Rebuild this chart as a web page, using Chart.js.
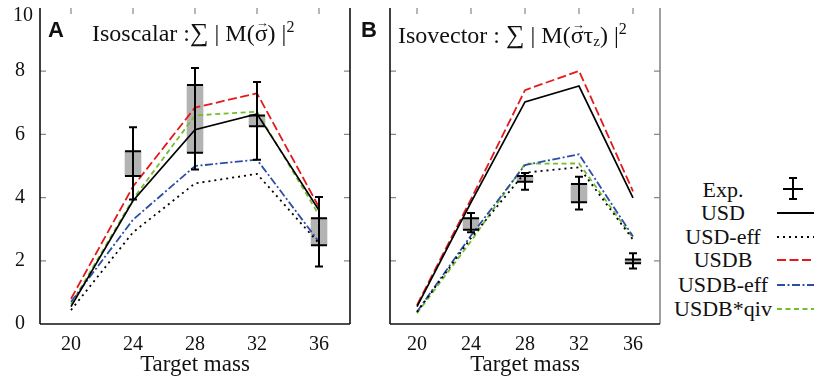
<!DOCTYPE html>
<html>
<head>
<meta charset="utf-8">
<script src="https://cdn.jsdelivr.net/npm/chart.js@4.4.0/dist/chart.umd.min.js"></script>
<style>
body { margin: 0; background: #fff; }
#wrap { position: relative; width: 814px; height: 381px; overflow: hidden; font-family: "Liberation Serif", serif; color: #111; }
canvas { position: absolute; top: 0; }
.ttl { position: absolute; font-size: 24px; line-height: 24px; white-space: nowrap; }
.ttl sup { font-size: 16px; vertical-align: 9px; line-height: 0; }
.ttl sub { font-size: 15px; vertical-align: -3px; line-height: 0; }
.sum { font-size: 26px; }
.vec { position: relative; display: inline-block; }
.vec i { position: absolute; left: 1px; top: -10px; font-style: normal; font-size: 13px; }
.pan { position: absolute; font-family: "Liberation Sans", sans-serif; font-weight: bold; font-size: 22px; line-height: 22px; }
.leg { position: absolute; left: 663px; width: 120px; text-align: center; font-family: "Liberation Serif", serif; font-size: 22px; line-height: 24px; white-space: nowrap; }
</style>
</head>
<body>
<div id="wrap">
  <canvas id="chartA" width="352" height="381" style="left:0"></canvas>
  <canvas id="chartB" width="320" height="381" style="left:342px"></canvas>

  <div class="pan" style="left:48px;top:19px">A</div>
  <div class="ttl" style="left:92px;top:21px">Isoscalar :<span class="sum">∑</span> | M(<span class="vec">σ<i>→</i></span>) |<sup>2</sup></div>
  <div class="pan" style="left:361px;top:19px">B</div>
  <div class="ttl" style="left:398px;top:23px">Isovector : <span class="sum">∑</span> | M(<span class="vec">σ<i>→</i></span>τ<sub>z</sub>) |<sup>2</sup></div>

  <div id="legend"></div>
  <svg id="legSvg" width="50" height="160" style="position:absolute;left:768px;top:168px"></svg>
</div>

<script>
'use strict';

// target masses and tick values
const masses = [20, 24, 28, 32, 36];
const massTicks = [20, 24, 28, 32, 36];
const yTicks = [0, 2, 4, 6, 8, 10];

// panel A: isoscalar
const isoUSD     = [0.55, 3.9, 6.15, 6.65, 3.6];
const isoUSDeff  = [0.44, 2.9, 4.45, 4.75, 2.55];
const isoUSDB    = [0.8, 4.35, 6.85, 7.3, 3.7];
const isoUSDBeff = [0.7, 3.3, 5.0, 5.2, 2.6];
const isoQiv     = [0.62, 3.95, 6.6, 6.72, 3.45];
const isoExpMass = [24, 28, 32, 36];
const isoBoxLo   = [4.68, 5.42, 6.26, 2.49];
const isoBoxHi   = [5.47, 7.56, 6.6, 3.35];
const isoErrLo   = [3.94, 4.89, 5.2, 1.82];
const isoErrHi   = [6.23, 8.1, 7.66, 4.02];

// panel B: isovector
const ivUSD     = [0.55, 3.85, 7.03, 7.53, 3.99];
const ivUSDeff  = [0.38, 2.72, 4.79, 4.96, 2.67];
const ivUSDB    = [0.6, 3.95, 7.4, 8.01, 4.2];
const ivUSDBeff = [0.39, 2.8, 5.03, 5.37, 2.77];
const ivQiv     = [0.34, 2.62, 5.07, 5.08, 2.72];
const ivExpMass = [24, 28, 32, 36];
const ivBoxLo   = [2.98, 4.5, 3.85, 1.92];
const ivBoxHi   = [3.35, 4.68, 4.43, 2.04];
const ivErrLo   = [2.9, 4.25, 3.62, 1.76];
const ivErrHi   = [3.51, 4.78, 4.66, 2.24];

const seriesNames = ['USD', 'USD-eff', 'USDB', 'USDB-eff', 'USDB*qiv'];
const seriesColors = ['#000000', '#000000', '#e3191c', '#2b4ea6', '#72bf2c'];
const seriesDash = [[], [2, 4], [9, 3.5], [8, 2.5, 2, 2.5], [5, 3.5]];

const serif = '"Liberation Serif", serif';
const topTick = yTicks[yTicks.length - 1];

// frame, inward ticks and experimental error bars
const framePlugin = {
  id: 'frame',
  afterDatasetsDraw(chart, args, opts) {
    const ctx = chart.ctx;
    const a = chart.chartArea;
    const x = chart.scales.x;
    const y = chart.scales.y;
    ctx.save();

    ctx.strokeStyle = '#888';
    ctx.lineWidth = 1.2;
    ctx.beginPath();
    massTicks.forEach(v => {
      const px = x.getPixelForValue(v);
      ctx.moveTo(px, a.top);
      ctx.lineTo(px, a.top + 6);
    });
    yTicks.slice(1, -1).forEach(v => {
      const py = y.getPixelForValue(v);
      ctx.moveTo(a.left, py);
      ctx.lineTo(a.left + 6, py);
      ctx.moveTo(a.right, py);
      ctx.lineTo(a.right - 6, py);
    });
    ctx.stroke();

    ctx.lineWidth = 1.6;
    ctx.strokeStyle = opts.leftColor;
    ctx.beginPath();
    ctx.moveTo(a.left, a.top);
    ctx.lineTo(a.left, a.bottom);
    ctx.stroke();
    ctx.strokeStyle = opts.rightColor;
    ctx.beginPath();
    ctx.moveTo(a.right, a.top);
    ctx.lineTo(a.right, a.bottom);
    ctx.stroke();
    ctx.strokeStyle = '#111';
    ctx.beginPath();
    ctx.moveTo(a.left, a.bottom);
    ctx.lineTo(a.right, a.bottom);
    ctx.stroke();

    // error bars
    const e = opts.exp;
    ctx.strokeStyle = '#000';
    ctx.lineWidth = 2;
    ctx.beginPath();
    e.mass.forEach((m, i) => {
      const px = x.getPixelForValue(m);
      const yHi = y.getPixelForValue(e.errHi[i]);
      const yLo = y.getPixelForValue(e.errLo[i]);
      const b1 = y.getPixelForValue(e.boxLo[i]);
      const b2 = y.getPixelForValue(e.boxHi[i]);
      ctx.moveTo(px, yHi); ctx.lineTo(px, yLo);
      ctx.moveTo(px - 4, yHi); ctx.lineTo(px + 4, yHi);
      ctx.moveTo(px - 4, yLo); ctx.lineTo(px + 4, yLo);
      ctx.moveTo(px - 8, b1); ctx.lineTo(px + 8, b1);
      ctx.moveTo(px - 8, b2); ctx.lineTo(px + 8, b2);
    });
    ctx.stroke();

    // top y label sits a bit lower so it is not cut off
    if (opts.showY) {
      ctx.fillStyle = '#111';
      ctx.font = '20px ' + serif;
      ctx.textAlign = 'right';
      ctx.textBaseline = 'middle';
      ctx.fillText(String(topTick), a.left - 7, y.getPixelForValue(topTick) + 8);
    }
    ctx.restore();
  }
};

function makePanel(canvasId, values, exp, showY, padLeft) {
  const datasets = values.map((vals, i) => ({
    label: seriesNames[i],
    data: masses.map((m, j) => ({ x: m, y: vals[j] })),
    borderColor: seriesColors[i],
    borderDash: seriesDash[i],
    borderWidth: i === 0 ? 1.7 : 1.8,
    pointRadius: 0,
    fill: false,
    tension: 0,
    order: 1
  }));
  datasets.push({
    type: 'bar',
    label: 'Exp.',
    data: exp.mass.map((m, i) => ({ x: m, y: [exp.boxLo[i], exp.boxHi[i]] })),
    backgroundColor: '#b3b3b3',
    borderWidth: 0,
    barThickness: 16,
    order: 10
  });

  return new Chart(document.getElementById(canvasId), {
    type: 'line',
    data: { datasets: datasets },
    options: {
      responsive: false,
      animation: false,
      layout: { padding: { left: padLeft, right: 2, top: 8, bottom: 0 } },
      plugins: {
        legend: { display: false },
        tooltip: { enabled: false },
        frame: { leftColor: '#111', rightColor: showY ? '#111' : '#888', exp: exp, showY: showY }
      },
      scales: {
        x: {
          type: 'linear',
          min: 18,
          max: 38,
          offset: false,
          afterBuildTicks: s => { s.ticks = massTicks.map(v => ({ value: v })); },
          afterFit: s => { s.height = 57; s.paddingLeft = 0; s.paddingRight = 0; },
          grid: { display: false },
          border: { display: false },
          ticks: { font: { family: serif, size: 20 }, color: '#111', padding: 1, maxRotation: 0 },
          title: { display: true, text: 'Target mass', font: { family: serif, size: 23 }, color: '#111', padding: { top: 0, bottom: 2 } }
        },
        y: {
          display: showY,
          min: 0,
          max: 10,
          afterBuildTicks: s => { s.ticks = yTicks.map(v => ({ value: v })); },
          afterFit: s => { s.width = 40; s.paddingTop = 0; s.paddingBottom = 0; },
          grid: { display: false },
          border: { display: false },
          ticks: {
            font: { family: serif, size: 20 },
            color: '#111',
            padding: 7,
            callback: v => (v === topTick ? '' : v)
          }
        }
      }
    },
    plugins: [framePlugin]
  });
}

makePanel('chartA', [isoUSD, isoUSDeff, isoUSDB, isoUSDBeff, isoQiv],
  { mass: isoExpMass, boxLo: isoBoxLo, boxHi: isoBoxHi, errLo: isoErrLo, errHi: isoErrHi }, true, 0);
makePanel('chartB', [ivUSD, ivUSDeff, ivUSDB, ivUSDBeff, ivQiv],
  { mass: ivExpMass, boxLo: ivBoxLo, boxHi: ivBoxHi, errLo: ivErrLo, errHi: ivErrHi }, false, 8);

// legend
const legendRows = ['Exp.'].concat(seriesNames);
const legendY = [189, 212, 236, 259, 284, 308];
const legendDiv = document.getElementById('legend');
legendRows.forEach((name, i) => {
  const d = document.createElement('div');
  d.className = 'leg';
  d.style.top = (legendY[i] - 11) + 'px';
  d.textContent = name;
  legendDiv.appendChild(d);
});
const svg = document.getElementById('legSvg');
const top0 = 168;
let svgHtml = '';
const ex = 25, ey = legendY[0] - top0;
svgHtml += `<path d="M${ex} ${ey - 11} V${ey + 10} M${ex - 4} ${ey - 11} H${ex + 4} M${ex - 4} ${ey + 10} H${ex + 4} M${ex - 10} ${ey} H${ex + 10}" stroke="#000" stroke-width="2" fill="none"/>`;
seriesNames.forEach((n, i) => {
  const yy = legendY[i + 1] - top0 + 1;
  svgHtml += `<line x1="9" y1="${yy}" x2="46" y2="${yy}" stroke="${seriesColors[i]}" stroke-width="1.8" stroke-dasharray="${seriesDash[i].join(' ') || 'none'}"/>`;
});
svg.innerHTML = svgHtml;
</script>
</body>
</html>
